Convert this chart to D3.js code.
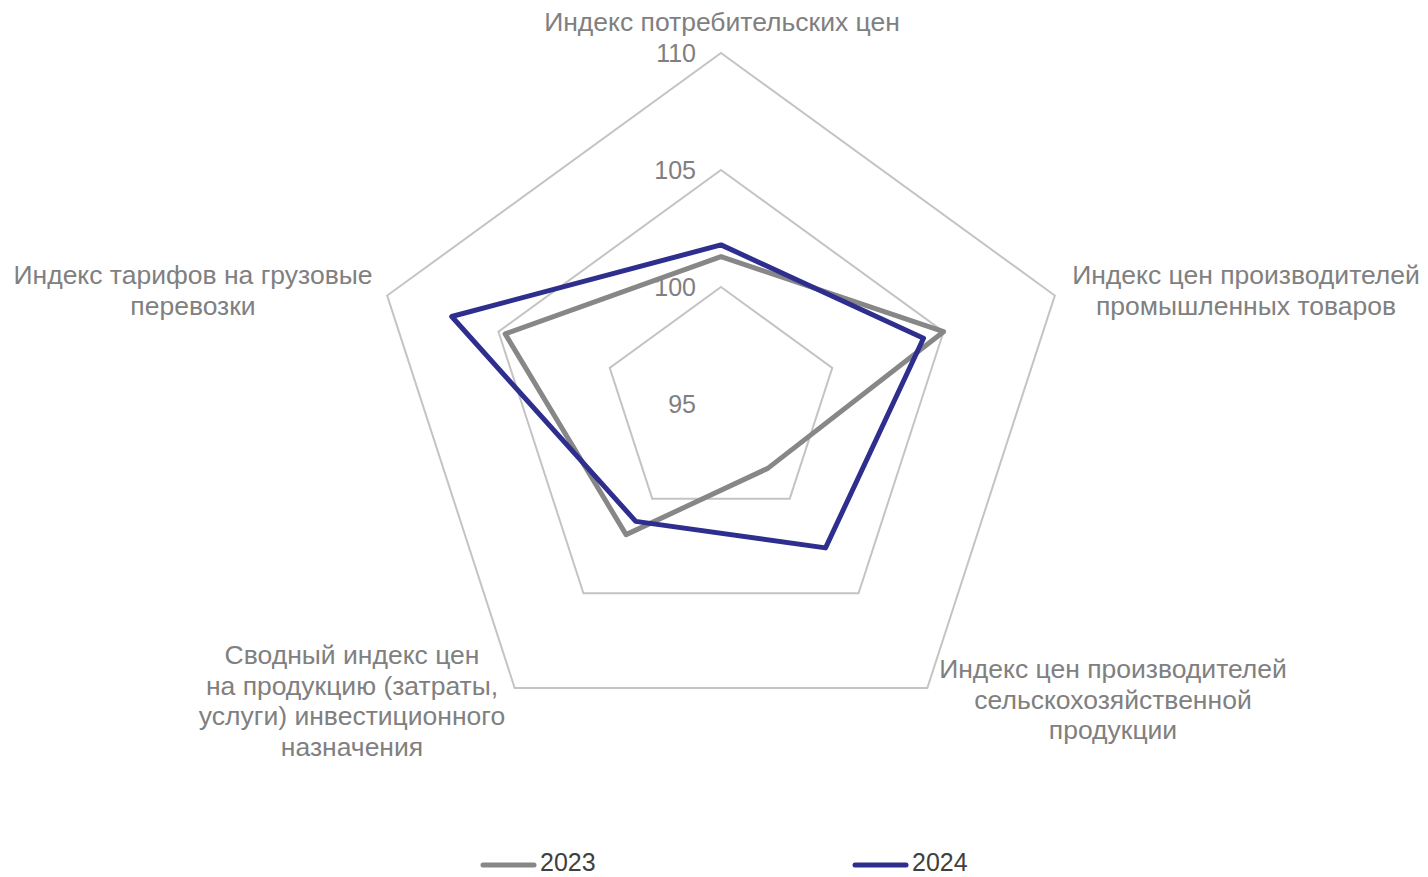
<!DOCTYPE html>
<html><head><meta charset="utf-8">
<script src="https://cdn.jsdelivr.net/npm/d3@7/dist/d3.min.js"></script>
<style>
html,body{margin:0;padding:0;background:#fff;}
svg{display:block;font-family:"Liberation Sans",Arial,sans-serif;}
</style></head>
<body>
<svg id="chart" width="1428" height="877"></svg>
<script>
const categories = [
  ["Индекс потребительских цен"],
  ["Индекс цен производителей", "промышленных товаров"],
  ["Индекс цен производителей", "сельскохозяйственной", "продукции"],
  ["Сводный индекс цен", "на продукцию (затраты,", "услуги) инвестиционного", "назначения"],
  ["Индекс тарифов на грузовые", "перевозки"]
];
const seriesNames = ["2023", "2024"];
const values2023 = [101.3, 105.0, 98.4, 101.9, 104.7];
const values2024 = [101.8, 104.1, 102.6, 101.2, 107.1];
const tickValues = [95, 100, 105, 110];

const colors = {"2023": "#878787", "2024": "#2e2e8f"};
const svg = d3.select("#chart");
const cx = 721, cy = 404, R = 351;
const r = d3.scaleLinear().domain([95, 110]).range([0, R]);
const n = categories.length;
const angle = i => i * 2 * Math.PI / n;
const pt = (i, v) => [cx + r(v) * Math.sin(angle(i)), cy - r(v) * Math.cos(angle(i))];

// grid pentagons (skip centre)
const line = d3.line().curve(d3.curveLinearClosed);
svg.append("g").selectAll("path").data(tickValues.filter(t => t > 95)).join("path")
  .attr("d", t => line(d3.range(n).map(i => pt(i, t))))
  .attr("fill", "none").attr("stroke", "#c4c4c4").attr("stroke-width", 2);

// tick labels
svg.append("g").selectAll("text").data(tickValues).join("text")
  .attr("x", cx - 25).attr("y", t => cy - r(t))
  .attr("text-anchor", "end").attr("dominant-baseline", "central")
  .attr("font-size", 25).attr("fill", "#808080").text(t => t);

// series
const data = [values2023, values2024];
svg.append("g").selectAll("path").data(data).join("path")
  .attr("d", vals => line(vals.map((v, i) => pt(i, v))))
  .attr("fill", "none")
  .attr("stroke", (d, k) => colors[seriesNames[k]])
  .attr("stroke-width", 5).attr("stroke-linejoin", "round");

// category labels: layout (anchor centre x, first line centre y)
const labelLayout = [
  {x: 722, y: 22},
  {x: 1246, y: 275},
  {x: 1113, y: 669},
  {x: 352, y: 655},
  {x: 193, y: 275}
];
const lh = 30.7;
const lg = svg.append("g");
categories.forEach((lines, i) => {
  const t = lg.append("text").attr("text-anchor", "middle")
    .attr("font-size", 26.5).attr("fill", "#808080");
  lines.forEach((s, j) => {
    t.append("tspan").attr("x", labelLayout[i].x)
      .attr("y", labelLayout[i].y + j * lh)
      .attr("dominant-baseline", "central").text(s);
  });
});

// legend
const legX = [483, 855];
const leg = svg.append("g");
seriesNames.forEach((s, k) => {
  leg.append("line").attr("x1", legX[k]).attr("x2", legX[k] + 51)
    .attr("y1", 865).attr("y2", 865)
    .attr("stroke", colors[s]).attr("stroke-width", 5).attr("stroke-linecap", "round");
  leg.append("text").attr("x", legX[k] + 57).attr("y", 862)
    .attr("dominant-baseline", "central").attr("font-size", 25)
    .attr("fill", "#404040").text(s);
});
</script>
</body></html>
